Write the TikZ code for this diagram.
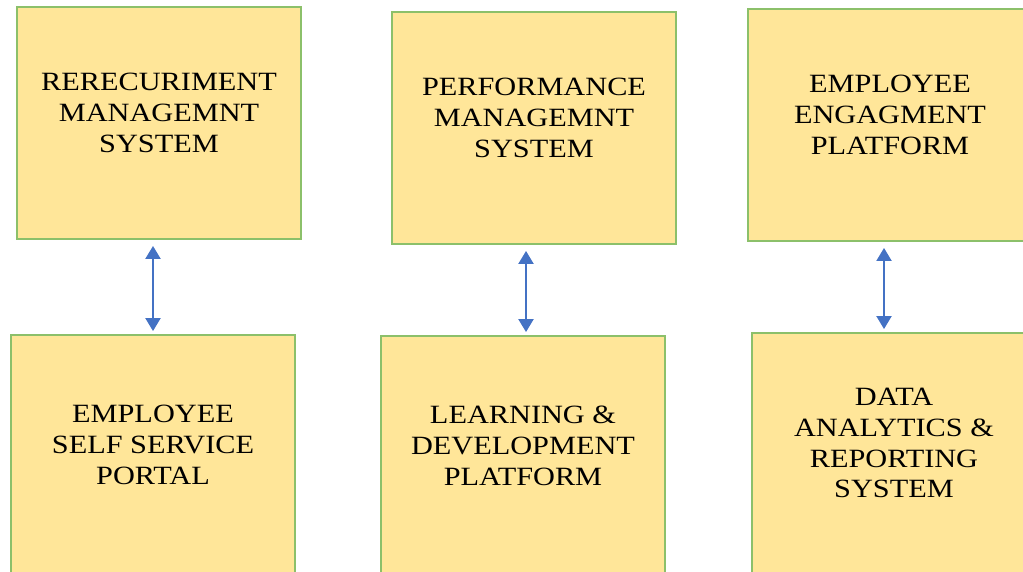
\documentclass[tikz,border=0pt]{standalone}
\usepackage{fontspec}
\newfontfamily\boxfont[FakeStretch=1.15]{Liberation Serif}
\definecolor{BoxFill}{HTML}{FFE699}
\definecolor{BoxLine}{HTML}{8CC06A}
\definecolor{ArrowBlue}{HTML}{4472C4}
\usetikzlibrary{arrows.meta,positioning,calc}
\def\bw{5.68cm}

\begin{document}
\begin{tikzpicture}
[x=0.02cm,y=-0.02cm,
   box/.style={rectangle,draw=BoxLine,line width=1.1pt,fill=BoxFill,
   minimum width=\bw,minimum height=4.64cm},
   lowbox/.style={box,minimum height=4.8cm},
   lb/.style={font=\boxfont\fontsize{15}{17.6}\selectfont,text=black,
   align=center,yshift=0.2cm},
   link/.style={ArrowBlue,line width=1.2pt,
   {Triangle[width=0.3cm,length=0.26cm]}-{Triangle[width=0.3cm,length=0.26cm]},
   shorten >=0.12cm, shorten <=0.06cm}]
\path[use as bounding box,clip] (0,0) rectangle (1023,571);
% top row
\node[box,label={[lb]center:RERECURIMENT\\MANAGEMNT\\SYSTEM}] (rms) at (159,123) {};
\node[box,label={[lb]center:PERFORMANCE\\MANAGEMNT\\SYSTEM}] (pms) at (534,128) {};
\node[box,label={[lb]center:EMPLOYEE\\ENGAGMENT\\PLATFORM}] (eep) at (890,125) {};
% bottom row
\node[lowbox,label={[lb]center:EMPLOYEE\\SELF SERVICE\\PORTAL}] (ess) at (153,455) {};
\node[lowbox,label={[lb]center:LEARNING \&\\DEVELOPMENT\\PLATFORM}] (ldp) at (523,456) {};
\node[lowbox,label={[lb]center:DATA\\ANALYTICS \&\\REPORTING\\SYSTEM}] (dar) at (894,453) {};
%%
\coordinate (ldpin) at ([xshift=0.06cm]ldp.north);
\coordinate (darin) at ([xshift=-0.2cm]dar.north);
\draw[link] (ess.north) -- (rms.south -| ess.north);
\draw[link] (ldpin) -- (pms.south -| ldpin);
\draw[link] (darin) -- (eep.south -| darin);
\end{tikzpicture}
\end{document}
